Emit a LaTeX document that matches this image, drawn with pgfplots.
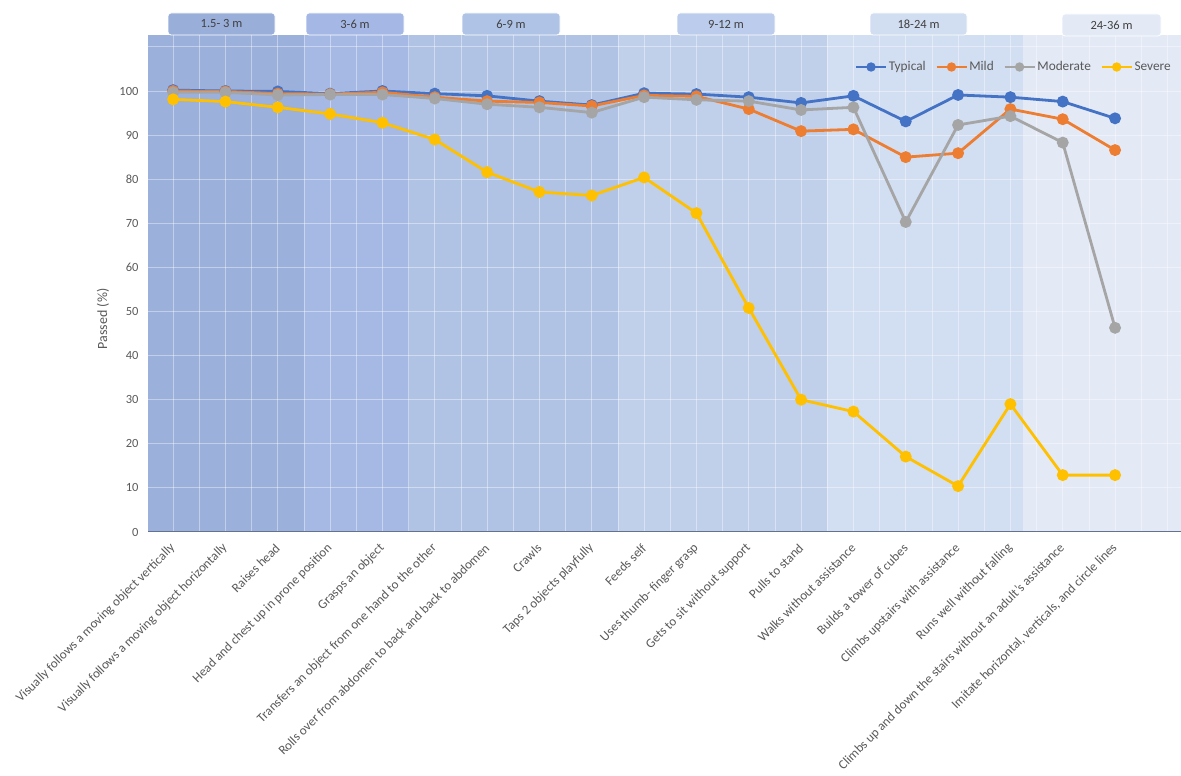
\documentclass[border=0pt]{standalone}
\usepackage{fontspec}
\setmainfont{Carlito}
\usepackage{pgfplots}
\pgfplotsset{compat=1.18}
\definecolor{typ}{HTML}{4472C4}
\definecolor{mild}{HTML}{ED7D31}
\definecolor{mod}{HTML}{A5A5A5}
\definecolor{sev}{HTML}{FFC000}
\definecolor{txt}{HTML}{595959}
\definecolor{bA}{HTML}{9BB0DA}
\definecolor{bB}{HTML}{A6B9E4}
\definecolor{bC}{HTML}{B0C3E5}
\definecolor{bD}{HTML}{C0CFEA}
\definecolor{bE}{HTML}{D2DEF1}
\definecolor{bF}{HTML}{E3E9F5}
\definecolor{kA}{HTML}{9AAEDA}
\definecolor{kB}{HTML}{A5B8E5}
\definecolor{kC}{HTML}{AFC3E6}
\definecolor{kD}{HTML}{BCCCEC}
\definecolor{kE}{HTML}{D1DDF0}
\definecolor{kF}{HTML}{E4EAF5}
\definecolor{boxtxt}{HTML}{404040}
\begin{document}
\begin{tikzpicture}
\begin{axis}[
  set layers,
  at={(148pt,244pt)}, anchor=south west,
  scale only axis, width=1033pt, height=497pt,
  xmin=-0.48, xmax=19.26, ymin=0, ymax=112.7,
  xtick={0,...,19},
  minor x tick num=1,
  xticklabels={Visually follows a moving object vertically,
    Visually follows a moving object horizontally,
    Raises head,
    Head and chest up in prone position,
    Grasps an object,
    Transfers an object from one hand to the other,
    Rolls over from abdomen to back and back to abdomen,
    Crawls,
    Taps 2 objects playfully,
    Feeds self,
    Uses thumb- finger grasp,
    Gets to sit without support,
    Pulls to stand,
    Walks without assistance,
    Builds a tower of cubes,
    Climbs upstairs with assistance,
    Runs well without falling,
    Climbs up and down the stairs without an adult’s assistance,
    {Imitate horizontal, verticals, and circle lines},
    {}},
  ytick={0,10,...,110},
  yticklabels={0,10,20,30,40,50,60,70,80,90,100,{}},
  major tick length=0pt, minor tick length=0pt,
  /pgf/number format/assume math mode=true,
  xticklabel style={font=\fontsize{13}{15}\selectfont, text=txt, rotate=45, anchor=east, inner sep=0pt},
  xticklabel shift=14pt,
  yticklabel style={font=\fontsize{12.5}{14}\selectfont, text=txt, xshift=-6pt},
  ylabel={Passed (\%)},
  ylabel style={at={(axis description cs:-0.0436,0.4286)}, anchor=center, font=\fontsize{14}{16}\selectfont, text=txt},
  grid=both,
  major grid style={white, opacity=0.4, line width=0.8pt},
  minor grid style={white, opacity=0.4, line width=0.8pt},
  axis lines*=left,
  axis line style={-},
  x axis line style={draw=black!35!bA, line width=1pt},
  y axis line style={draw=none},
  legend style={at={(0.683,0.9356)}, anchor=west, draw=none, fill=none,
    font=\fontsize{13.3}{15}\selectfont, text=txt, inner sep=1pt,
    /tikz/every even column/.append style={column sep=8pt},
    nodes={inner sep=1.5pt}},
  legend columns=-1,
  legend image code/.code={\draw[mark repeat=2,mark phase=2,#1, mark size=3.3pt, line width=2.6pt] plot coordinates {(0pt,0pt)(15pt,0pt)(30pt,0pt)};},
  every axis plot/.append style={line width=2.8pt, mark=*, mark size=4.5pt, mark options={solid}},
]
\begin{pgfonlayer}{axis background}
\fill[bA] (axis cs:-0.48,0) rectangle (axis cs:2.5,112.7);
\fill[bB] (axis cs:2.5,0) rectangle (axis cs:4.5,112.7);
\fill[bC] (axis cs:4.5,0) rectangle (axis cs:8.5,112.7);
\fill[bD] (axis cs:8.5,0) rectangle (axis cs:12.5,112.7);
\fill[bE] (axis cs:12.5,0) rectangle (axis cs:16.25,112.7);
\fill[bF] (axis cs:16.25,0) rectangle (axis cs:19.26,112.7);
\end{pgfonlayer}
\addplot[typ] coordinates {(0,100.2)(1,100.0)(2,99.9)(3,99.4)(4,100.0)(5,99.4)(6,98.9)(7,97.7)(8,96.8)(9,99.5)(10,99.3)(11,98.6)(12,97.3)(13,98.9)(14,93.1)(15,99.1)(16,98.6)(17,97.6)(18,93.8)};
\addlegendentry{Typical}
\addplot[mild] coordinates {(0,100.0)(1,99.9)(2,99.4)(3,99.3)(4,99.7)(5,98.6)(6,97.7)(7,97.4)(8,96.6)(9,99.0)(10,98.8)(11,95.9)(12,90.9)(13,91.3)(14,85.0)(15,85.9)(16,95.9)(17,93.6)(18,86.6)};
\addlegendentry{Mild}
\addplot[mod] coordinates {(0,99.7)(1,99.7)(2,99.1)(3,99.2)(4,99.2)(5,98.3)(6,97.0)(7,96.3)(8,95.1)(9,98.6)(10,98.0)(11,97.7)(12,95.7)(13,96.3)(14,70.3)(15,92.3)(16,94.3)(17,88.3)(18,46.3)};
\addlegendentry{Moderate}
\addplot[sev] coordinates {(0,98.1)(1,97.6)(2,96.3)(3,94.8)(4,92.8)(5,89.0)(6,81.6)(7,77.1)(8,76.3)(9,80.4)(10,72.3)(11,50.8)(12,30.0)(13,27.3)(14,17.1)(15,10.4)(16,29.0)(17,12.9)(18,12.9)};
\addlegendentry{Severe}
\end{axis}
\tikzset{agebox/.style={draw=white, line width=0.8pt, rounded corners=3pt}}
\tikzset{agetxt/.style={font=\fontsize{12.5}{14}\selectfont, text=boxtxt}}
\draw[agebox, fill=kA] (168pt,741pt) rectangle (275pt,763pt); \node[agetxt] at (221.5pt,752pt) {1.5- 3 m};
\draw[agebox, fill=kB] (306pt,741pt) rectangle (404pt,763pt); \node[agetxt] at (355pt,752pt) {3-6 m};
\draw[agebox, fill=kC] (462pt,741pt) rectangle (560pt,763pt); \node[agetxt] at (511pt,752pt) {6-9 m};
\draw[agebox, fill=kD] (677pt,741pt) rectangle (775pt,763pt); \node[agetxt] at (726pt,752pt) {9-12 m};
\draw[agebox, fill=kE] (870pt,741pt) rectangle (967pt,763pt); \node[agetxt] at (918.5pt,752pt) {18-24 m};
\draw[agebox, fill=kF] (1062pt,740pt) rectangle (1161pt,762pt); \node[agetxt] at (1111.5pt,751pt) {24-36 m};
\pgfresetboundingbox
\useasboundingbox (0pt,0pt) rectangle (1181pt,776pt);
\end{tikzpicture}
\end{document}
